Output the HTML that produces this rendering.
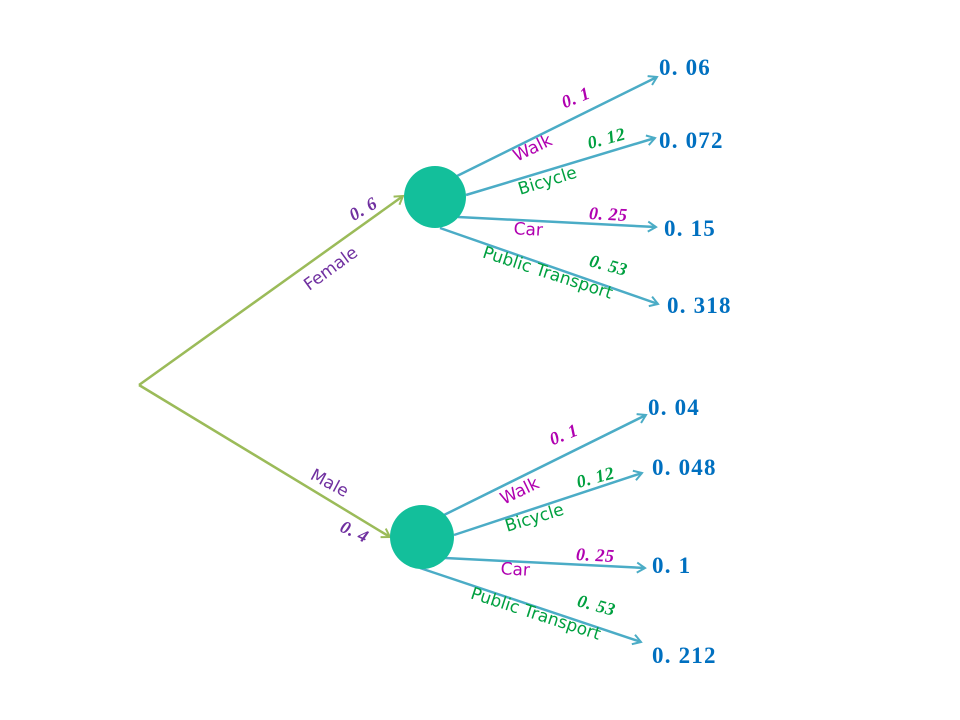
<!DOCTYPE html>
<html><head><meta charset="utf-8"><style>
html,body{margin:0;padding:0;background:#fff;width:960px;height:720px;overflow:hidden}
svg{display:block}
.r{font-family:"Liberation Serif",serif;font-weight:bold;font-size:23px;letter-spacing:1.2px;fill:#0070c0}
.p{font-family:"Liberation Serif",serif;font-weight:bold;font-style:italic;font-size:18px;letter-spacing:0.5px}
.l{font-family:"DejaVu Sans","Liberation Sans",sans-serif;font-size:17px}
</style></head><body>
<svg width="960" height="720" viewBox="0 0 960 720">
<defs>
<marker id="ag" markerWidth="12" markerHeight="12" refX="10" refY="6" orient="auto" markerUnits="userSpaceOnUse"><path d="M2,1 L10,6 L2,11" fill="none" stroke="#9bbb59" stroke-width="2"/></marker>
<marker id="ab" markerWidth="12" markerHeight="12" refX="10" refY="6" orient="auto" markerUnits="userSpaceOnUse"><path d="M2,1 L10,6 L2,11" fill="none" stroke="#4bacc6" stroke-width="2"/></marker>
</defs>
<g stroke="#9bbb59" stroke-width="2.5" fill="none">
<line x1="139" y1="385" x2="403" y2="196" marker-end="url(#ag)"/>
<line x1="139" y1="385" x2="390" y2="537" marker-end="url(#ag)"/>
</g>
<g stroke="#4bacc6" stroke-width="2.5" fill="none">
<line x1="457" y1="176" x2="657" y2="77" marker-end="url(#ab)"/>
<line x1="466" y1="195" x2="655" y2="138" marker-end="url(#ab)"/>
<line x1="458" y1="217" x2="656" y2="227" marker-end="url(#ab)"/>
<line x1="440" y1="228" x2="658" y2="304" marker-end="url(#ab)"/>
<line x1="444" y1="515" x2="646" y2="415" marker-end="url(#ab)"/>
<line x1="454" y1="535" x2="642" y2="473" marker-end="url(#ab)"/>
<line x1="445" y1="558" x2="645" y2="568" marker-end="url(#ab)"/>
<line x1="420" y1="568" x2="641" y2="642" marker-end="url(#ab)"/>
</g>
<circle cx="435" cy="197" r="31" fill="#13bf9b"/>
<circle cx="422" cy="537" r="32" fill="#13bf9b"/>
<g class="r">
<text x="659" y="75">0. 06</text>
<text x="659" y="148">0. 072</text>
<text x="664" y="236">0. 15</text>
<text x="667" y="313">0. 318</text>
<text x="648" y="415">0. 04</text>
<text x="652" y="475">0. 048</text>
<text x="652" y="573">0. 1</text>
<text x="652" y="663">0. 212</text>
</g>
<g text-anchor="middle">
<text class="p" fill="#7030a0" transform="translate(366,214) rotate(-30)">0. 6</text>
<text class="l" fill="#7030a0" transform="translate(334,273) rotate(-36)">Female</text>
<text class="p" fill="#7030a0" transform="translate(352,537) rotate(25)">0. 4</text>
<text class="l" fill="#7030a0" transform="translate(327,488) rotate(28)">Male</text>

<text class="p" fill="#b000b0" transform="translate(578,103) rotate(-22)">0. 1</text>
<text class="l" fill="#b000b0" transform="translate(535,153) rotate(-26)">Walk</text>
<text class="p" fill="#00a040" transform="translate(608,144) rotate(-15)">0. 12</text>
<text class="l" fill="#00a040" transform="translate(549,186) rotate(-17)">Bicycle</text>
<text class="p" fill="#b000b0" transform="translate(608,220) rotate(3)">0. 25</text>
<text class="l" fill="#b000b0" transform="translate(528,235) rotate(3)">Car</text>
<text class="p" fill="#00a040" transform="translate(607,271) rotate(15)">0. 53</text>
<text class="l" fill="#00a040" transform="translate(546,278) rotate(18)">Public Transport</text>

<text class="p" fill="#b000b0" transform="translate(566,440) rotate(-22)">0. 1</text>
<text class="l" fill="#b000b0" transform="translate(522,496) rotate(-26)">Walk</text>
<text class="p" fill="#00a040" transform="translate(597,483) rotate(-15)">0. 12</text>
<text class="l" fill="#00a040" transform="translate(536,523) rotate(-17)">Bicycle</text>
<text class="p" fill="#b000b0" transform="translate(595,561) rotate(3)">0. 25</text>
<text class="l" fill="#b000b0" transform="translate(515,575) rotate(3)">Car</text>
<text class="p" fill="#00a040" transform="translate(595,611) rotate(15)">0. 53</text>
<text class="l" fill="#00a040" transform="translate(534,619) rotate(18)">Public Transport</text>
</g>
</svg>
</body></html>
